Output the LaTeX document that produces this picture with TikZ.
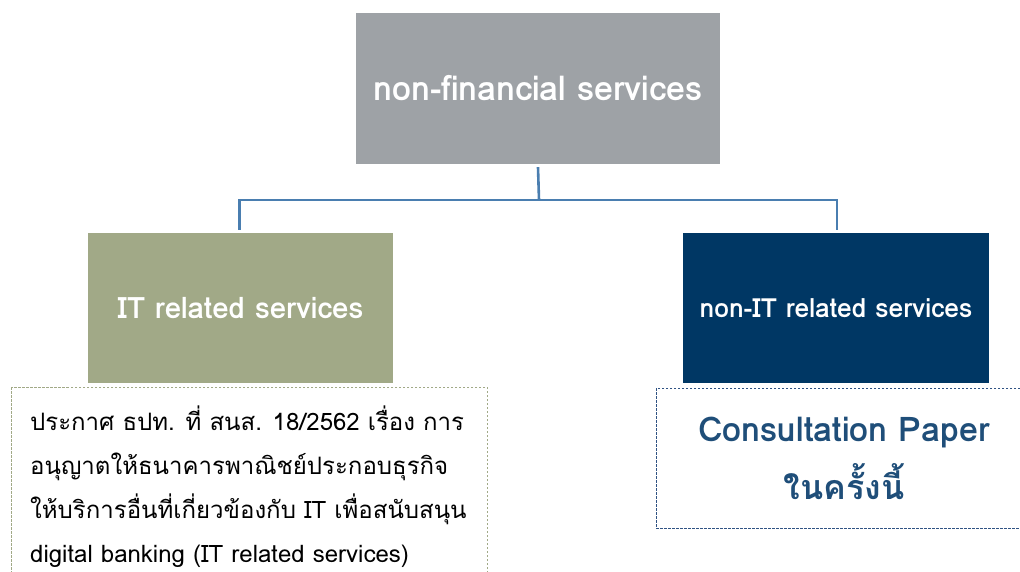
\documentclass[tikz,border=0pt]{standalone}
\usepackage{fontspec}
\setmainfont[Script=Thai]{Loma}
\definecolor{topgray}{HTML}{9EA2A6}
\definecolor{olive}{HTML}{A1A987}
\definecolor{navy}{HTML}{003764}
\definecolor{connblue}{HTML}{4A7EB0}
\definecolor{textnavy}{HTML}{1F4E79}
\definecolor{dashnavy}{HTML}{2F5283}
\tikzset{
  box/.style={draw=none, inner sep=0pt, text=white, font=\bfseries},
  conn/.style={draw=connblue, line width=2.6pt},
  notebox/.style={dashed, line width=0.8pt, dash pattern=on 2.5pt off 1.5pt},
}
\begin{document}
\begin{tikzpicture}[x=1pt,y=-1pt]
\useasboundingbox (0,0) rectangle (1020,572);
\clip (0,0) rectangle (1020,572);
\fill[white] (0,0) rectangle (1020,572);
\node[box, fill=topgray, minimum width=364pt, minimum height=151pt, font=\bfseries\fontsize{34}{38}\selectfont] (top) at (538,88.5) {non-financial services};
\node[box, fill=olive, minimum width=305pt, minimum height=150pt, font=\bfseries\fontsize{29.5}{33}\selectfont] (left) at (240.5,308) {IT related services};
\node[box, fill=navy, minimum width=306pt, minimum height=150pt, font=\bfseries\fontsize{26.4}{30}\selectfont] (right) at (836,308) {non-IT related services};
\coordinate (bend) at (539,200);
\draw[conn] ([yshift=-3pt]top.south) -- (bend);
\draw[conn] ([xshift=-1pt,yshift=3pt]left.north) |- (bend) -| ([xshift=1pt,yshift=3pt]right.north);
\draw[notebox, draw=olive] (11,387) rectangle (487,600);
\node[anchor=north west, inner sep=0pt, align=left, font=\fontsize{24}{44}\selectfont] (note) at (30,406) {ประกาศ ธปท. ที่ สนส. 18/2562 เรื่อง การ\\อนุญาตให้ธนาคารพาณิชย์ประกอบธุรกิจ\\ให้บริการอื่นที่เกี่ยวข้องกับ IT เพื่อสนับสนุน\\digital banking (IT related services)};
\draw[notebox, draw=dashnavy] (656,388) rectangle (1030,528);
\node[align=center, text=textnavy, inner sep=0pt, font=\bfseries\fontsize{34}{58}\selectfont] (cp) at (844,458) {Consultation Paper\\ในครั้งนี้};
\end{tikzpicture}
\end{document}
